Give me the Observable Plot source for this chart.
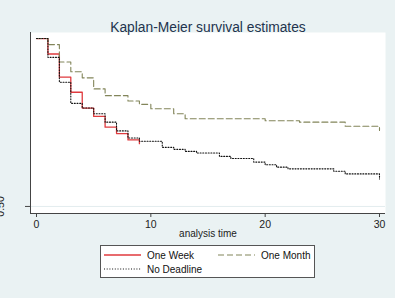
<!DOCTYPE html>
<html>
<head>
<meta charset="utf-8">
<script src="https://cdn.jsdelivr.net/npm/d3@7"></script>
<script src="https://cdn.jsdelivr.net/npm/@observablehq/plot@0.6"></script>
<style>
  body { margin: 0; }
  #chart {
    position: relative; width: 395px; height: 298px; overflow: hidden;
    background: #eaf2f3; font-family: "Liberation Sans", Arial, sans-serif;
  }
  #chart svg.plot { position: absolute; left: 0; top: 0; }
  #legend {
    position: absolute; left: 100px; top: 245px; width: 215px; height: 33px;
    background: #fff; border: 1px solid #555; box-sizing: border-box;
    font-size: 10px; color: #111;
  }
  .item { position: absolute; display: flex; align-items: center; white-space: nowrap; }
  .item svg { margin-right: 6px; }
</style>
</head>
<body>
<div id="chart"><div id="legend"></div></div>
<script>
// Kaplan-Meier step estimates by deadline group (time in days)
const seriesNames = ["One Week", "One Month", "No Deadline"];

const weekTime = [0, 1, 2, 3, 4, 5, 6, 7, 8, 9];
const weekSurv = [1, 0.954, 0.885, 0.840, 0.793, 0.768, 0.736, 0.717, 0.698, 0.687];

const monthTime = [0, 1, 2, 3, 4, 5, 6, 8, 9, 10, 12, 13, 20, 23, 27, 30];
const monthSurv = [1, 0.982, 0.930, 0.901, 0.883, 0.850, 0.830, 0.814, 0.804, 0.791, 0.776, 0.761, 0.755, 0.751, 0.739, 0.726];

const noneTime = [0, 1, 2, 3, 4, 5, 6, 7, 8, 9, 11, 12, 13, 14, 16, 17, 19, 20, 21, 22, 26, 27, 30];
const noneSurv = [1, 0.944, 0.870, 0.807, 0.793, 0.776, 0.751, 0.725, 0.704, 0.694, 0.676, 0.670, 0.664, 0.659, 0.649, 0.643, 0.632, 0.624, 0.617, 0.612, 0.605, 0.597, 0.582];

const xTicks = [0, 10, 20, 30];
const yTicks = [0.5];
const titleText = "Kaplan-Meier survival estimates";
const xLabel = "analysis time";

// line styles per group
const styles = {
  "One Week":    {stroke: "#e03a3e", strokeWidth: 1.3, strokeDasharray: null},
  "One Month":   {stroke: "#82855a", strokeWidth: 1.1, strokeDasharray: "6,3"},
  "No Deadline": {stroke: "#111111", strokeWidth: 1.1, strokeDasharray: "1,1.7"}
};

const toRows = (name, ts, ss) => ts.map((t, i) => ({series: name, t, s: ss[i]}));
const groups = {
  "One Week": toRows("One Week", weekTime, weekSurv),
  "One Month": toRows("One Month", monthTime, monthSurv),
  "No Deadline": toRows("No Deadline", noneTime, noneSurv)
};

const xDomain = [-0.525, 30.525];
const yDomain = [0.479, 1.018];

const lineMark = (name) => Plot.line(groups[name], {
  x: "t", y: "s", curve: "step-after",
  stroke: styles[name].stroke,
  strokeWidth: styles[name].strokeWidth,
  strokeDasharray: styles[name].strokeDasharray || undefined
});

const chart = Plot.plot({
  width: 395,
  height: 298,
  marginLeft: 30,
  marginRight: 10,
  marginTop: 32,
  marginBottom: 85,
  style: {background: "transparent", fontFamily: "Liberation Sans, Arial, sans-serif", color: "#222"},
  x: {domain: xDomain},
  y: {domain: yDomain},
  marks: [
    Plot.frame({fill: "white", stroke: "none"}),
    Plot.ruleY(yTicks, {stroke: "#e3ecee"}),
    lineMark("One Week"),
    lineMark("One Month"),
    lineMark("No Deadline"),
    Plot.ruleX([xDomain[0]], {stroke: "#444", strokeWidth: 1}),
    Plot.ruleY([yDomain[0]], {stroke: "#444", strokeWidth: 1}),
    Plot.axisX({ticks: xTicks, tickSize: 4, tickPadding: 3, fontSize: 10.5, label: null, stroke: "#444"}),
    Plot.axisY({ticks: yTicks, tickFormat: d3.format(".2f"), tickSize: 5, tickPadding: 22, tickRotate: -90, fontSize: 10.5, label: null, stroke: "#444"}),
    Plot.text([titleText], {frameAnchor: "top", dy: -10, fontSize: 13.8, fill: "#22344e"}),
    Plot.text([xLabel], {frameAnchor: "bottom", dy: 23, fontSize: 10, fill: "#222"})
  ]
});
chart.classList.add("plot");
document.getElementById("chart").prepend(chart);

// legend: two columns, two rows
const legend = document.getElementById("legend");
const legendPos = {"One Week": [3, 3], "One Month": [117, 3], "No Deadline": [3, 17]};
seriesNames.forEach(name => {
  const st = styles[name];
  const item = document.createElement("div");
  item.className = "item";
  item.style.left = legendPos[name][0] + "px";
  item.style.top = legendPos[name][1] + "px";
  item.style.height = "12px";
  const dash = st.strokeDasharray ? ` stroke-dasharray="${st.strokeDasharray}"` : "";
  item.innerHTML = `<svg width="37" height="4"><line x1="0" x2="37" y1="2" y2="2" stroke="${st.stroke}" stroke-width="${st.strokeWidth}"${dash}/></svg><span>${name}</span>`;
  legend.appendChild(item);
});
</script>
</body>
</html>
